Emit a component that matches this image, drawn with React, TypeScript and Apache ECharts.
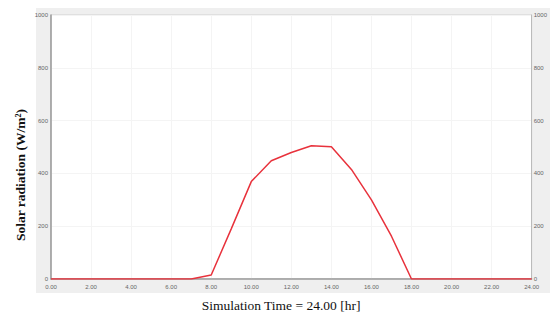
import React, { useEffect, useRef } from "react";
import * as echarts from "echarts";

const hours = [0, 1, 2, 3, 4, 5, 6, 7, 8, 9, 10, 11, 12, 13, 14, 15, 16, 17, 18, 19, 20, 21, 22, 23, 24];
const radiation = [0, 0, 0, 0, 0, 0, 0, 0, 15, 190, 369, 448, 479, 505, 501, 415, 300, 162, 0, 0, 0, 0, 0, 0, 0];
const xTitle = "Simulation Time = 24.00 [hr]";
const yTitle = "Solar radiation (W/m²)";

export default function App() {
  const ref = useRef<HTMLDivElement>(null);
  useEffect(() => {
    document.body.style.margin = "0";
    const chart = echarts.init(ref.current!, null, { renderer: "svg" });
    const tickLabel = {
      fontSize: 6,
      color: "#666",
      fontFamily: "Liberation Sans",
      formatter: (v: number) => String(v),
    };
    chart.setOption({
      animation: false,
      backgroundColor: "#ffffff",
      graphic: [
        {
          type: "rect",
          z: -10,
          shape: { x: 36, y: 8, width: 514, height: 285 },
          style: { fill: "#efefef" },
        },
        {
          type: "text",
          x: 20,
          y: 175,
          rotation: Math.PI / 2,
          style: {
            text: yTitle,
            fontFamily: "Liberation Serif",
            fontSize: 13.5,
            fontWeight: "bold",
            fill: "#111",
            align: "center",
            verticalAlign: "middle",
          },
        },
        {
          type: "text",
          x: 281,
          y: 305,
          style: {
            text: xTitle,
            fontFamily: "Liberation Serif",
            fontSize: 13.5,
            fill: "#111",
            align: "center",
            verticalAlign: "middle",
          },
        },
      ],
      grid: {
        left: 51,
        right: 13,
        top: 15,
        bottom: 41,
        show: true,
        backgroundColor: "#ffffff",
        borderColor: "#d0d0d0",
        borderWidth: 1,
      },
      xAxis: {
        type: "value",
        min: 0,
        max: 24,
        interval: 2,
        axisLine: { show: true, lineStyle: { color: "#999", width: 1.5 } },
        axisTick: { show: false },
        axisLabel: { ...tickLabel, margin: 5, formatter: (v: number) => v.toFixed(2) },
        splitLine: { show: true, lineStyle: { color: "#f4f4f4" } },
      },
      yAxis: [
        {
          type: "value",
          min: 0,
          max: 1000,
          interval: 200,
          axisLine: { show: true, lineStyle: { color: "#999", width: 1.5 } },
          axisTick: { show: false },
          axisLabel: { ...tickLabel, margin: 3 },
          splitLine: { show: true, lineStyle: { color: "#f4f4f4" } },
        },
        {
          type: "value",
          position: "right",
          min: 0,
          max: 1000,
          interval: 200,
          axisLine: { show: true, lineStyle: { color: "#bbb", width: 1 } },
          axisTick: { show: false },
          axisLabel: { ...tickLabel, margin: 2 },
          splitLine: { show: false },
        },
      ],
      series: [
        {
          type: "line",
          data: hours.map((h, i) => [h, radiation[i]]),
          symbol: "none",
          lineStyle: { color: "#e8323c", width: 1.5 },
        },
      ],
    });
    return () => chart.dispose();
  }, []);
  return <div ref={ref} style={{ width: 550, height: 320 }} />;
}
